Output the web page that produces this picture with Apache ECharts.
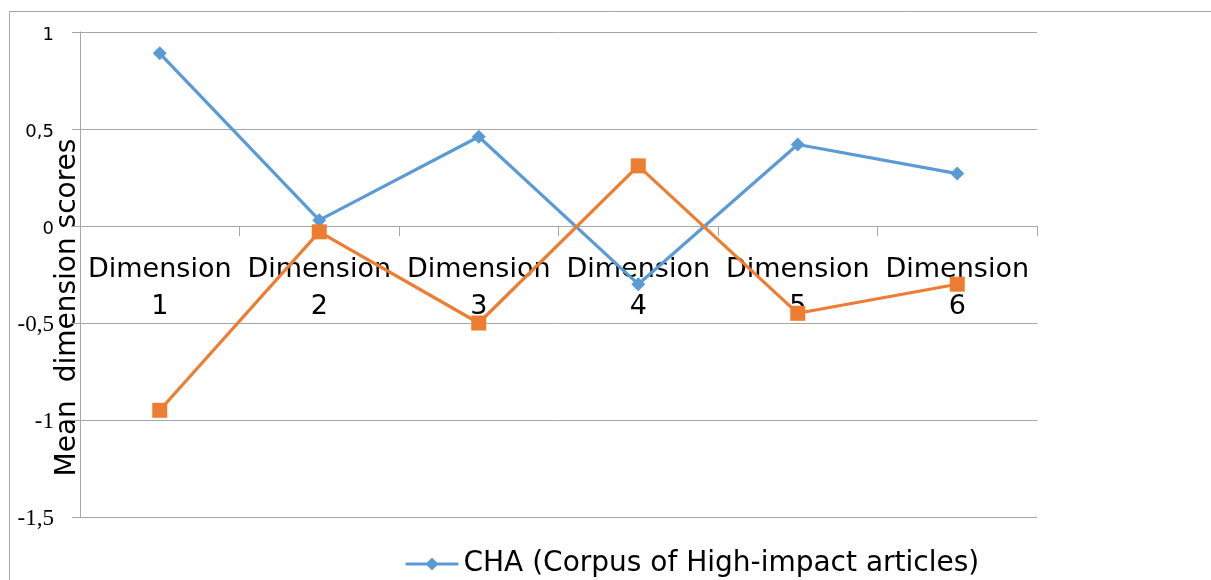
<!DOCTYPE html>
<html>
<head>
<meta charset="utf-8">
<script src="https://cdn.jsdelivr.net/npm/echarts@6/dist/echarts.min.js"></script>
<style>html,body{margin:0;padding:0;background:#fff;}#c{width:1211px;height:580px;}</style>
</head>
<body>
<div id="c"></div>
<script>
const categories = ['Dimension 1', 'Dimension 2', 'Dimension 3', 'Dimension 4', 'Dimension 5', 'Dimension 6'];
const seriesNames = ['CHA (Corpus of High-impact articles)', 'CLA (Corpus of Low-impact articles)'];
const chaValues = [0.89, 0.03, 0.46, -0.30, 0.42, 0.27];
const claValues = [-0.95, -0.03, -0.50, 0.31, -0.45, -0.30];
const yAxisName = 'Mean  dimension scores';

const chart = echarts.init(document.getElementById('c'));
const gray = '#a6a6a6';
chart.setOption({
  animation: false,
  backgroundColor: '#fff',
  graphic: [{
    type: 'rect', silent: true,
    shape: { x: 9.5, y: 11.5, width: 1400, height: 800 },
    style: { fill: 'none', stroke: gray, lineWidth: 1 }
  }],
  grid: { left: 80, right: 174, top: 32, bottom: 63, containLabel: false, outerBoundsMode: 'none' },
  legend: {
    data: [seriesNames[0]],
    left: 404, top: 550, padding: 0,
    itemWidth: 53, itemHeight: 16, itemGap: 4,
    lineStyle: { width: 3 },
    textStyle: { fontFamily: 'DejaVu Sans', fontSize: 28, color: '#000' }
  },
  xAxis: {
    type: 'category',
    data: categories,
    boundaryGap: true,
    offset: -291,
    axisLine: { onZero: false, lineStyle: { color: gray, width: 1 } },
    axisTick: { show: true, interval: 0, length: 10, lineStyle: { color: gray } },
    axisLabel: {
      interval: 0, margin: 25,
      fontFamily: 'DejaVu Sans', fontSize: 27, color: '#000', lineHeight: 37,
      formatter: v => v.replace(' ', '\n')
    },
    splitLine: { show: false }
  },
  yAxis: {
    type: 'value',
    min: -1.5, max: 1, interval: 0.5,
    name: yAxisName,
    nameLocation: 'middle',
    nameGap: -2,
    nameMoveOverlap: false,
    nameTextStyle: { fontFamily: 'DejaVu Sans', fontSize: 28, color: '#000', padding: [0, 66, 0, 0] },
    axisLine: { show: true, lineStyle: { color: gray, width: 1 } },
    axisTick: { show: true, length: 8, lineStyle: { color: gray } },
    splitLine: { show: true, lineStyle: { color: gray, width: 1 } },
    axisLabel: {
      margin: 26,
      formatter: v => (v < 0 ? '{s|' : '{n|') + String(v).replace('.', ',') + '}',
      rich: {
        n: { fontFamily: 'DejaVu Sans', fontSize: 18, color: '#000', padding: [7, 0, 0, 0] },
        s: { fontFamily: 'Liberation Serif', fontSize: 23, color: '#000', padding: [4, 0, 0, 0] }
      }
    }
  },
  series: [
    {
      name: seriesNames[0], type: 'line', data: chaValues,
      symbol: 'diamond', symbolSize: 14,
      itemStyle: { color: '#5b9bd5' },
      lineStyle: { color: '#5b9bd5', width: 3.2 }
    },
    {
      name: seriesNames[1], type: 'line', data: claValues,
      symbol: 'rect', symbolSize: 15,
      itemStyle: { color: '#ed7d31' },
      lineStyle: { color: '#ed7d31', width: 3.2 }
    }
  ]
});
</script>
</body>
</html>
